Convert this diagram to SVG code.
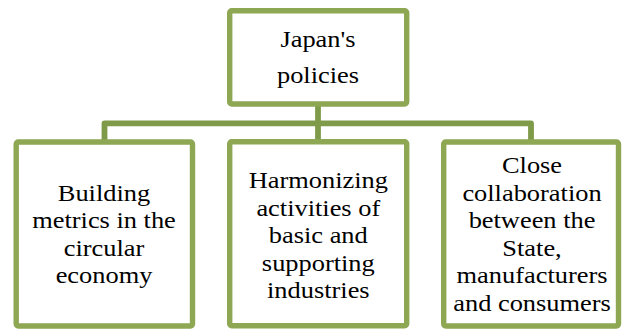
<svg xmlns="http://www.w3.org/2000/svg" width="622" height="329" viewBox="0 0 622 329">
  <style>
    .box { fill: #ffffff; stroke: #8DA753; stroke-width: 5.4; }
    .link { fill: none; stroke: #7F9B4A; stroke-width: 5.8; stroke-linejoin: round; }
  </style>
  <rect width="622" height="329" fill="#ffffff"/>

  <!-- connectors: root down to the bus, bus down to each child -->
  <g id="connectors">
    <path class="link" d="M318,104 V139"/>
    <path class="link" d="M104.5,140 V123.3 H531 V140"/>
  </g>

  <g id="root">
    <rect class="box" x="229.7" y="10.7" width="177" height="93.3" rx="2"/>
    <g transform="translate(318,0) scale(1.1,1)" font-family="Liberation Serif" font-size="24" text-anchor="middle" fill="#000">
      <text x="0" y="46.7">Japan's</text>
      <text x="0" y="83.3">policies</text>
    </g>
  </g>

  <g id="metrics">
    <rect class="box" x="16.2" y="142" width="176.3" height="184" rx="2"/>
    <g transform="translate(104,0) scale(1.1,1)" font-family="Liberation Serif" font-size="24" text-anchor="middle" fill="#000">
      <text x="0" y="200.7">Building</text>
      <text x="0" y="228.3">metrics in the</text>
      <text x="0" y="255.7">circular</text>
      <text x="0" y="283.3">economy</text>
    </g>
  </g>

  <g id="industries">
    <rect class="box" x="229.7" y="141.7" width="177" height="184" rx="2"/>
    <g transform="translate(318.3,0) scale(1.1,1)" font-family="Liberation Serif" font-size="24" text-anchor="middle" fill="#000">
      <text x="0" y="188.3">Harmonizing</text>
      <text x="0" y="215.7">activities of</text>
      <text x="0" y="243.3">basic and</text>
      <text x="0" y="270.7">supporting</text>
      <text x="0" y="298.3">industries</text>
    </g>
  </g>

  <g id="collaboration">
    <rect class="box" x="443.7" y="142" width="174.8" height="184" rx="2"/>
    <g transform="translate(532,0) scale(1.1,1)" font-family="Liberation Serif" font-size="24" text-anchor="middle" fill="#000">
      <text x="0" y="173.3">Close</text>
      <text x="0" y="200.7">collaboration</text>
      <text x="0" y="228.3">between the</text>
      <text x="0" y="255.7">State,</text>
      <text x="0" y="283.3">manufacturers</text>
      <text x="0" y="311">and consumers</text>
    </g>
  </g>
</svg>
